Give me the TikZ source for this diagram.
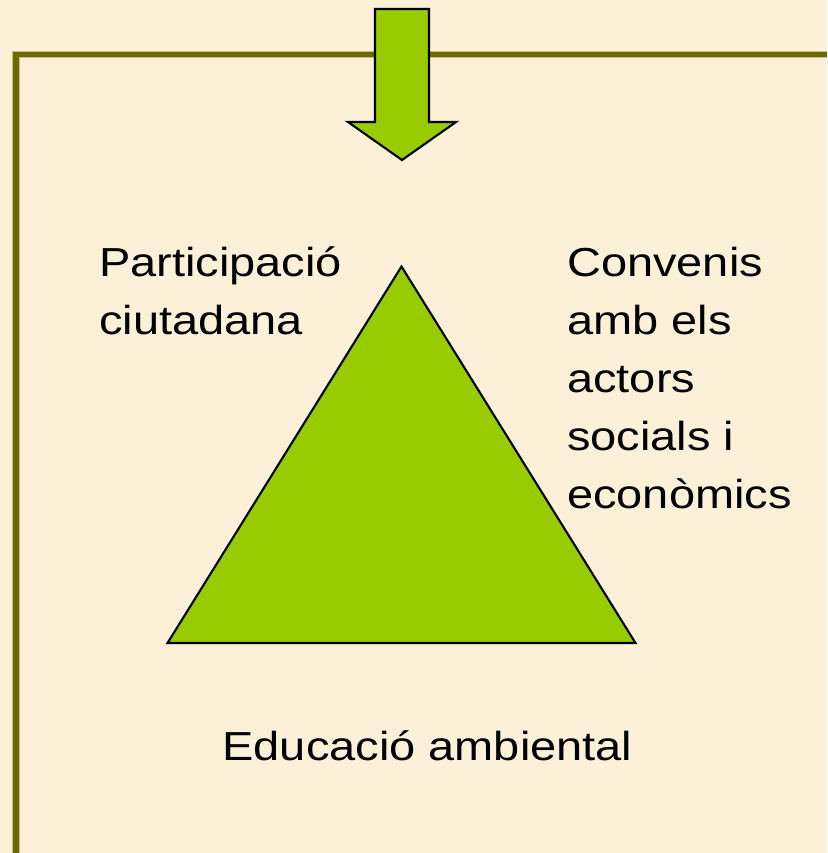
\documentclass[tikz,border=0pt]{standalone}
\usepackage{fontspec}
\setmainfont{Liberation Sans}[FakeStretch=1.16]
\definecolor{parch}{HTML}{FCF0D9}
\definecolor{olive}{HTML}{6B6A00}
\definecolor{olivelight}{HTML}{C9BE86}
\definecolor{leaf}{HTML}{99CC00}
\begin{document}
\begin{tikzpicture}[x=1pt,y=-1pt,
  lbl/.style={inner sep=0pt, anchor=base west, font=\fontsize{40.5}{58}\selectfont},
  framelineback/.style={draw=olivelight, line width=7.5pt},
  frameline/.style={draw=olive, line width=5.5pt},
  shapeout/.style={draw=black, line width=2.1pt, line join=miter, fill=leaf}]
\useasboundingbox (0,0) rectangle (827,853);
\fill[parch] (0,0) rectangle (827,853);
% frame
\coordinate (fb) at (16,853);
\coordinate (fc) at (16,54.5);
\coordinate (fr) at (827,54.5);
\draw[framelineback] (fb) -- (fc) -- (fr);
\draw[frameline] (fb) -- (fc) -- (fr);
% arrow
\draw[shapeout] (375,9) -- (429,9) -- (429,122) -- (456,122) -- (402,160)
  -- (348,122) -- (375,122) -- cycle;
% triangle
\coordinate (ta) at (401.5,266.5);
\coordinate (tl) at (167.5,643);
\coordinate (tr) at (635.5,643);
\draw[shapeout] (ta) -- (tr) -- (tl) -- cycle;
% labels
\node[lbl] (p1) at (99,276) {Participació};
\node[lbl] (p2) at (99,334) {ciutadana};
\node[lbl] (c1) at (567,276) {Convenis};
\node[lbl] (c2) at (567,334) {amb els};
\node[lbl] (c3) at (567,392) {actors};
\node[lbl] (c4) at (567,450) {socials i};
\node[lbl] (c5) at (567,508) {econòmics};
\node[lbl, anchor=base] (e1) at (427.5,760) {Educació ambiental};
\end{tikzpicture}
\end{document}
